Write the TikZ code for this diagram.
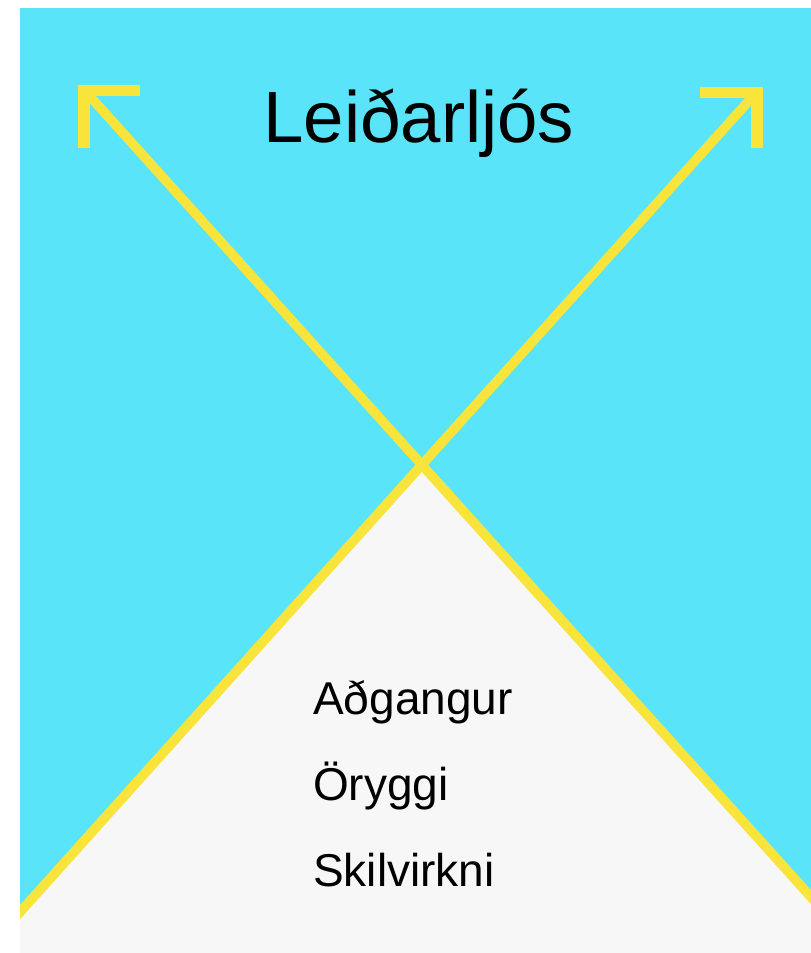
\documentclass[tikz,border=0pt]{standalone}
\usepackage{fontspec}
\setmainfont{Liberation Sans}
\definecolor{skycyan}{RGB}{90,228,250}
\definecolor{sunyellow}{RGB}{248,228,58}
\definecolor{paper}{RGB}{247,247,247}
\begin{document}
\begin{tikzpicture}[x=1pt,y=-1pt,
  shaftline/.style={draw=sunyellow,line width=9.5pt},
  headline/.style={draw=sunyellow,line width=11.5pt,miter limit=10},
  titletext/.style={font=\fontsize{72.6}{80}\selectfont,inner sep=0pt},
  itemtext/.style={font=\fontsize{46}{52}\selectfont,inner sep=0pt,anchor=base west}]
\useasboundingbox (0,0) rectangle (811,953);
\fill[white] (0,0) rectangle (811,953);
\begin{scope}
\clip (20,8) rectangle (811,953);
\fill[skycyan] (20,8) rectangle (811,953);
\coordinate (apex) at (420,465);
\fill[paper] (20,912) -- (apex) -- (811,897) -- (811,953) -- (20,953) -- cycle;
% left arrow
\coordinate (ltip) at (86,92);
\coordinate (lend) at (820,907);
\draw[shaftline] (ltip) -- (lend);
\draw[headline] (140,90.5) -- (84,90.5) -- (84,148);
% right arrow
\coordinate (rtip) at (755,94);
\coordinate (rend) at (12,921);
\draw[shaftline] (rtip) -- (rend);
\draw[headline] (700,92.5) -- (757,92.5) -- (757,148);
\end{scope}
\node[titletext,anchor=base] (title) at (419,142) {Leiðarljós};
\node[itemtext] (i1) at (313,714) {Aðgangur};
\node[itemtext] (i2) at (313,800) {Öryggi};
\node[itemtext] (i3) at (313,886) {Skilvirkni};
\end{tikzpicture}
\end{document}
